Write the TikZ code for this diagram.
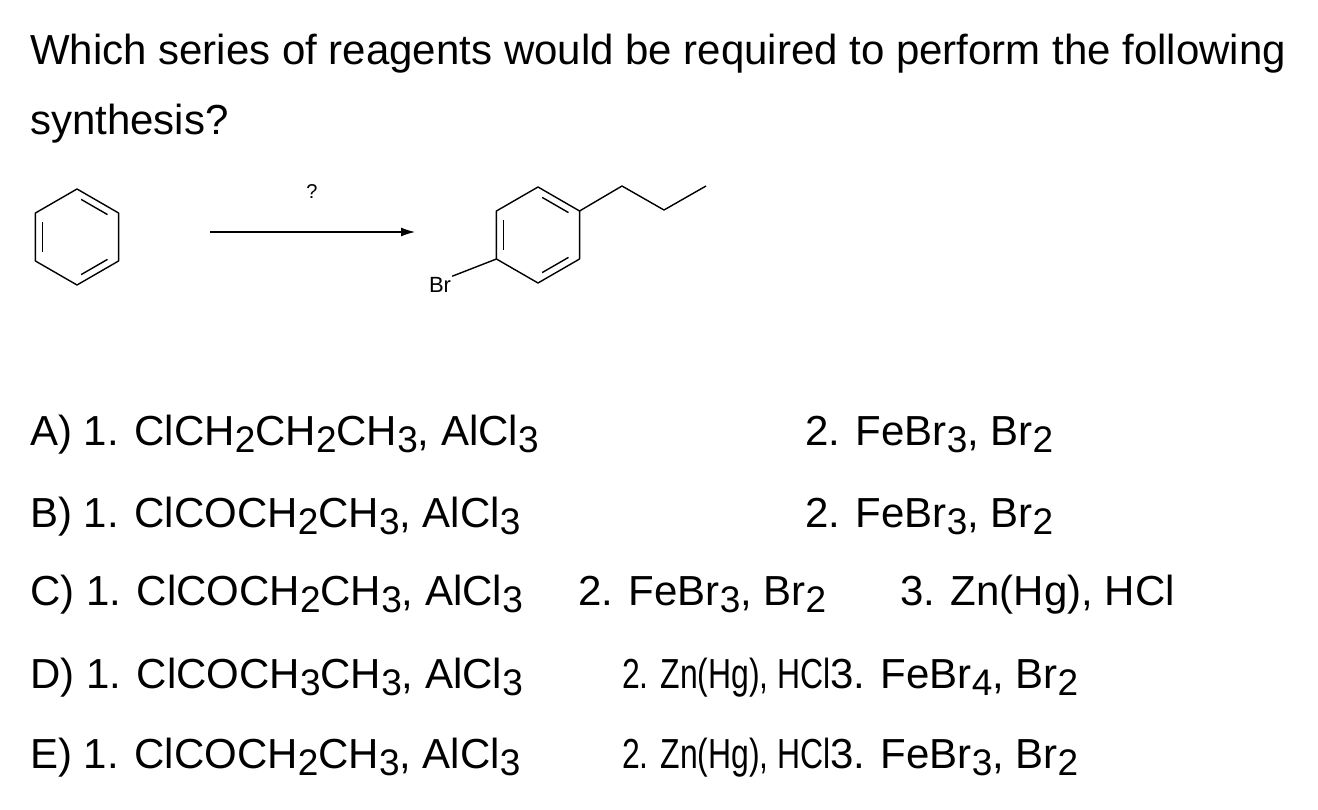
\documentclass[tikz,border=0pt]{standalone}
\usepackage{fontspec}
\setmainfont{Liberation Sans}
\usetikzlibrary{arrows.meta,calc}
\newcommand{\subn}[1]{\raisebox{-0.35ex}{\fontsize{37}{37}\selectfont #1}}
\begin{document}
\begin{tikzpicture}[x=1pt,y=-1pt,
  txt/.style={anchor=base west,inner sep=0pt,font=\fontsize{42}{42}\selectfont},
  bond/.style={line width=1.4pt,line join=round}]
\useasboundingbox (0,0) rectangle (1318,810);
\fill[white] (0,0) rectangle (1318,810);
\node[txt] (t1) at (30,65) {Which series of reagents would be required to perform the following};
\node[txt] (t2) at (30,135) {synthesis?};
% benzene
\begin{scope}[shift={(77,237)}]
\draw[bond] (90:48)--(30:48)--(-30:48)--(-90:48)--(-150:48)--(150:48)--cycle;
\draw[bond] ($(90:40)!0.12!(30:40)$)--($(90:40)!0.88!(30:40)$);
\draw[bond] ($(-30:40)!0.12!(-90:40)$)--($(-30:40)!0.88!(-90:40)$);
\draw[bond] ($(-150:40)!0.12!(150:40)$)--($(-150:40)!0.88!(150:40)$);
\end{scope}
% arrow
\coordinate (a1) at (210,232); \coordinate (a2) at (415,232);
\draw[line width=1.2pt,-{Latex[length=14pt,width=9pt]}] (a1)--(a2);
\node[font=\fontsize{20}{20}\selectfont] (q) at (312,192) {?};
% product
\begin{scope}[shift={(538,235)}]
\draw[bond] (90:48)--(30:48)--(-30:48)--(-90:48)--(-150:48)--(150:48)--cycle;
\draw[bond] ($(90:40)!0.12!(30:40)$)--($(90:40)!0.88!(30:40)$);
\draw[bond] ($(-30:40)!0.12!(-90:40)$)--($(-30:40)!0.88!(-90:40)$);
\draw[bond] ($(-150:40)!0.12!(150:40)$)--($(-150:40)!0.88!(150:40)$);
\coordinate (p1) at (-30:48);
\coordinate (p2) at (150:48);
\end{scope}
\coordinate (c1) at (622,186); \coordinate (c2) at (664,210); \coordinate (c3) at (706,186);
\draw[bond] (p1)--(c1)--(c2)--(c3);
\node[font=\fontsize{22}{22}\selectfont,inner sep=1pt] (br) at (440,285) {Br};
\draw[bond] (p2)--(br.north east);
% options
\node[txt] (A1) at (30,445) {A) 1. ClCH\subn2CH\subn2CH\subn3, AlCl\subn3};
\node[txt] (A2) at (805,445) {2. FeBr\subn3, Br\subn2};
\node[txt] (B1) at (30,527) {B) 1. ClCOCH\subn2CH\subn3, AlCl\subn3};
\node[txt] (B2) at (805,527) {2. FeBr\subn3, Br\subn2};
\node[txt] (C1) at (30,605) {C) 1. ClCOCH\subn2CH\subn3, AlCl\subn3};
\node[txt] (C2) at (578,605) {2. FeBr\subn3, Br\subn2};
\node[txt] (C3) at (900,605) {3. Zn(Hg), HCl};
\node[txt] (D1) at (30,688) {D) 1. ClCOCH\subn3CH\subn3, AlCl\subn3};
\node[txt] (D2) at (622,688) {\scalebox{0.76}[1]{2. Zn(Hg), HCl}};
\node[txt] (D3) at (830,688) {3. FeBr\subn4, Br\subn2};
\node[txt] (E1) at (30,768) {E) 1. ClCOCH\subn2CH\subn3, AlCl\subn3};
\node[txt] (E2) at (622,768) {\scalebox{0.76}[1]{2. Zn(Hg), HCl}};
\node[txt] (E3) at (830,768) {3. FeBr\subn3, Br\subn2};
\end{tikzpicture}
\end{document}
